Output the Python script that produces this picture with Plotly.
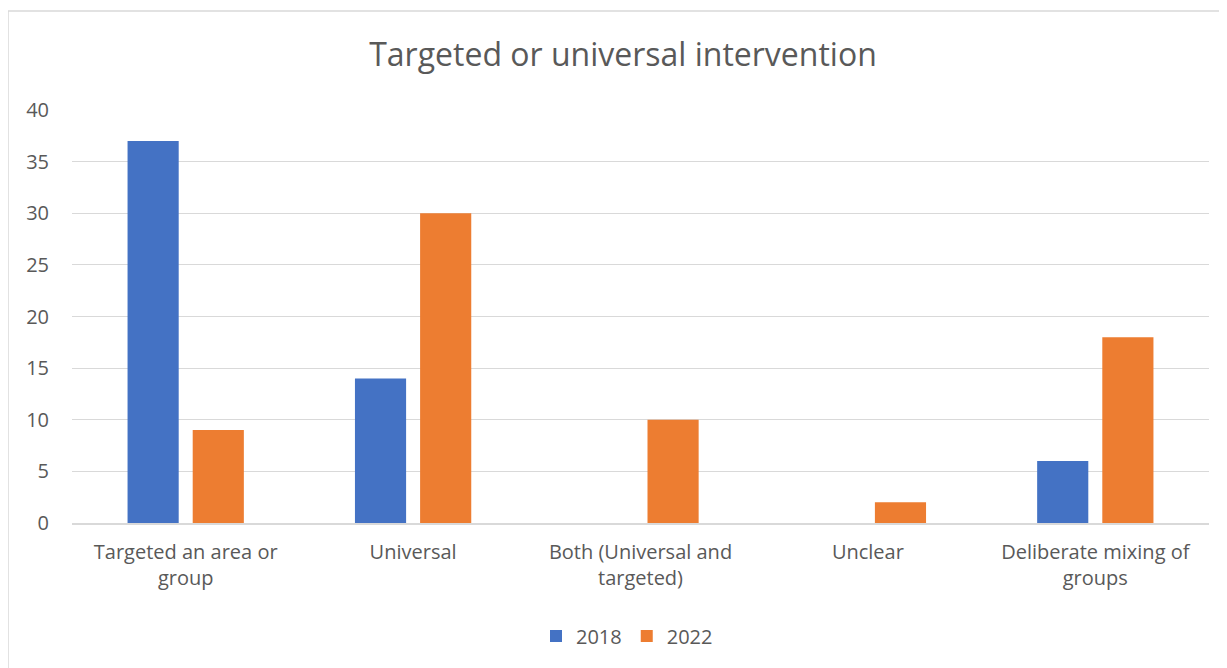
import plotly.graph_objects as go

categories = ["Targeted an area or<br>group", "Universal", "Both (Universal and<br>targeted)", "Unclear", "Deliberate mixing of<br>groups"]
values_2018 = [37, 14, 0, 0, 6]
values_2022 = [9, 30, 10, 2, 18]
title_text = "Targeted or universal intervention"

OFF = 8  # page body margin
W, H = 1227 - OFF, 668 - OFF
# reference pixel positions of plot area
PL, PR, PT, PB = 72, 1209, 110, 523
L, T = PL - OFF, PT - OFF
R = W - (PR - OFF)
B = H - (PB - OFF)
pw, ph = PR - PL, PB - PT

def px2x(px):
    return (px - PL) / pw

def py2y(py):
    return (PB - py) / ph

font_family = "Open Sans, Liberation Sans, sans-serif"
grey = "#595959"

fig = go.Figure()
fig.add_trace(go.Bar(name="2018", x=categories, y=values_2018, marker=dict(color="#4472C4", line=dict(width=0))))
fig.add_trace(go.Bar(name="2022", x=categories, y=values_2022, marker=dict(color="#ED7D31", line=dict(width=0))))

fig.update_layout(
    width=W, height=H,
    margin=dict(l=L, r=R, t=T, b=B),
    paper_bgcolor="white", plot_bgcolor="white",
    barmode="group", bargap=0.427, bargroupgap=0.215,
    font=dict(family=font_family, color=grey, size=20),
    title=dict(text=title_text, x=px2x(623), xref="paper", xanchor="center",
               y=1 - (55 - OFF) / H, yanchor="middle",
               font=dict(size=32, color=grey, family=font_family)),
    legend=dict(orientation="h", x=px2x(627), xanchor="center", y=py2y(636), yanchor="middle",
                font=dict(size=20, color=grey), itemwidth=30, traceorder="normal"),
    xaxis=dict(showgrid=False, showline=True, linecolor="#d9d9d9", linewidth=1.5,
               tickfont=dict(size=20, color=grey), ticks="", ticklabelstandoff=10),
    yaxis=dict(range=[0, 40], dtick=5, showgrid=True, gridcolor="#d9d9d9", gridwidth=1,
               zeroline=False, tickfont=dict(size=20, color=grey), ticklabelstandoff=22,
               showline=False),
    shapes=[dict(type="rect", xref="paper", yref="paper",
                 x0=px2x(8), x1=px2x(1240), y0=py2y(680), y1=py2y(11),
                 line=dict(color="#d9d9d9", width=1.5), fillcolor="rgba(0,0,0,0)", layer="below")],
)

fig.write_html("out.html")
